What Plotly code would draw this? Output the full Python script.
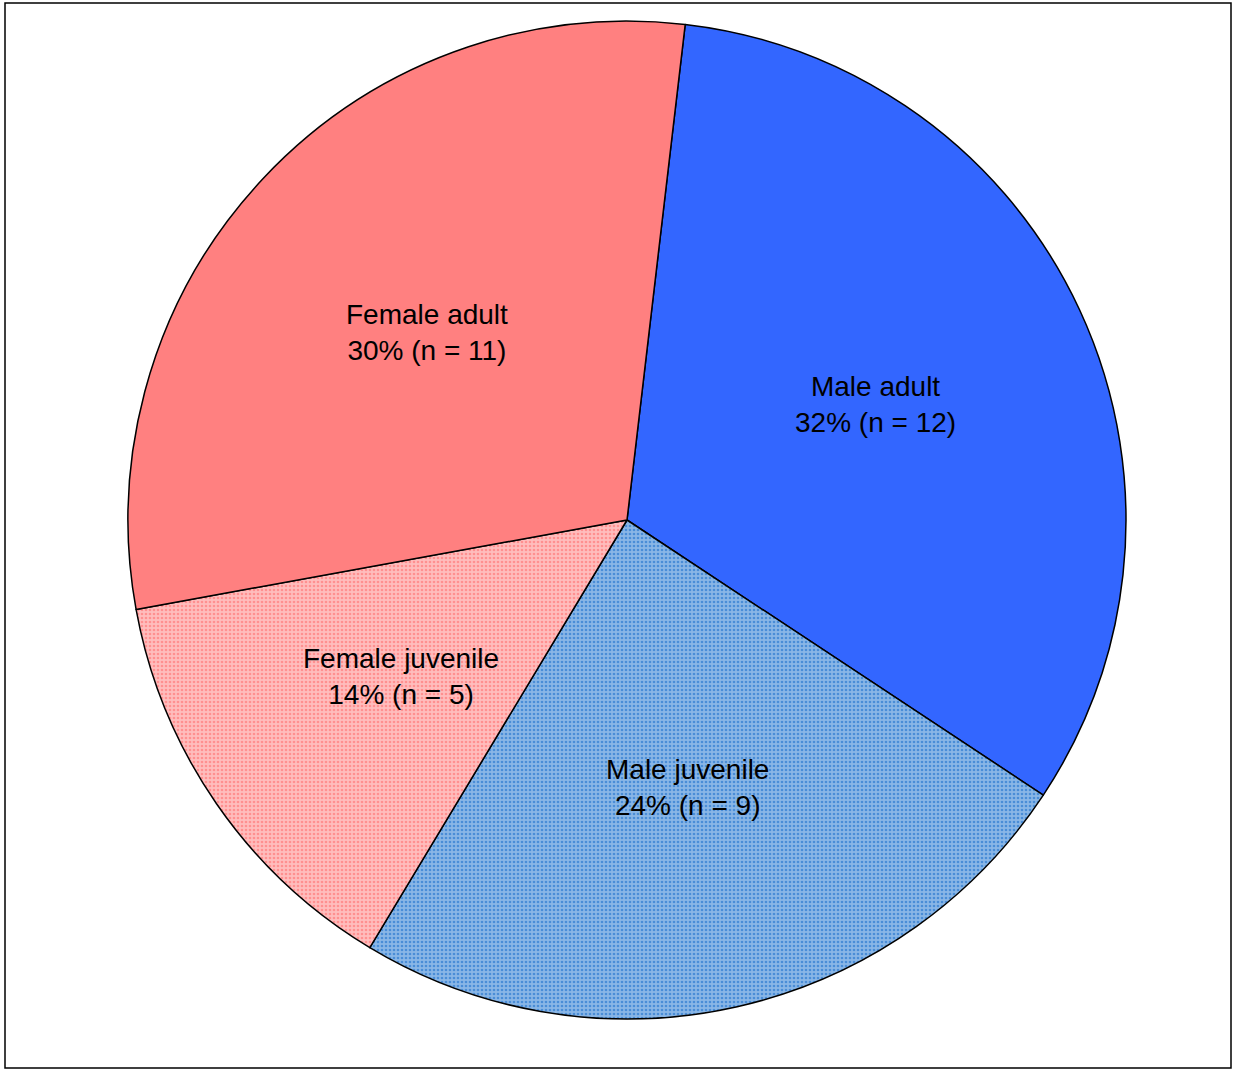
import math
import plotly.graph_objects as go

labels = ["Male adult", "Male juvenile", "Female juvenile", "Female adult"]
counts = [12, 9, 5, 11]
percents = ["32%", "24%", "14%", "30%"]

fill_colors = ["#3366FF", "#8AB6E6", "#FFBDBD", "#FF8080"]
pattern_shapes = ["", ".", ".", ""]
pattern_fg = ["#3366FF", "#0A64C8", "#FF6464", "#FF8080"]

texts = [f"{l}<br>{p} (n = {c})" for l, p, c in zip(labels, percents, counts)]

W, H = 1233, 1070
cx, cy, R = 627, 520, 499
rotation = 6.7
label_frac = 0.55

fig = go.Figure(go.Pie(
    labels=labels,
    values=counts,
    textinfo="none",
    sort=False,
    direction="clockwise",
    rotation=rotation,
    hoverinfo="none",
    showlegend=False,
    marker=dict(
        colors=fill_colors,
        line=dict(color="black", width=1.5),
        pattern=dict(shape=pattern_shapes, fgcolor=pattern_fg,
                     size=4, solidity=0.35, fillmode="overlay"),
    ),
    domain=dict(x=[(cx - R) / W, (cx + R) / W], y=[(H - cy - R) / H, (H - cy + R) / H]),
))

# label positions derived from the data (mid-angle of each slice)
total = sum(counts)
annotations = []
start = rotation
for t, c in zip(texts, counts):
    span = c / total * 360
    mid = math.radians(start + span / 2)
    start += span
    x = cx + label_frac * R * math.sin(mid)
    y = cy - label_frac * R * math.cos(mid)
    annotations.append(dict(
        x=x / W, y=(H - y) / H, xref="paper", yref="paper",
        text=t, showarrow=False, xanchor="center", yanchor="middle",
        font=dict(family="Liberation Sans, Arial", size=28, color="black"),
    ))

fig.update_layout(
    width=W, height=H,
    margin=dict(l=0, r=0, t=0, b=0),
    paper_bgcolor="white",
    plot_bgcolor="white",
    annotations=annotations,
    shapes=[dict(type="rect", xref="paper", yref="paper",
                 x0=5 / W, x1=1231 / W, y0=(H - 1068) / H, y1=(H - 3) / H,
                 line=dict(color="black", width=1.5), fillcolor="rgba(0,0,0,0)")],
)

fig.write_html("out.html")
